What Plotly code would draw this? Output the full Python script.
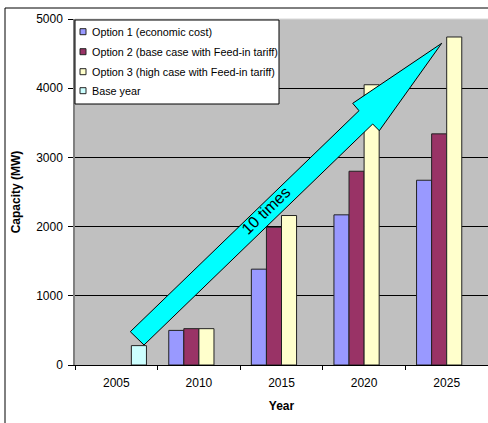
import plotly.graph_objects as go

years = ["2005", "2010", "2015", "2020", "2025"]
option1 = [None, 500, 1385, 2170, 2670]
option2 = [None, 525, 1990, 2800, 3340]
option3 = [None, 525, 2160, 4050, 4740]
base_year = [280, None, None, None, None]

series_names = [
    "Option 1 (economic cost)",
    "Option 2 (base case with Feed-in tariff)",
    "Option 3 (high case with Feed-in tariff)",
    "Base year",
]
series_values = [option1, option2, option3, base_year]
series_colors = ["#9999FF", "#993366", "#FFFFCC", "#CCFFFF"]

W, H = 488, 423
ML, MR, MT, MB = 75, 0, 19, 58
PW, PH = W - ML - MR, H - MT - MB
FONT = "Arial, Liberation Sans, sans-serif"


def px2paper(x, y):
    return (x - ML) / PW, (H - MB - y) / PH


fig = go.Figure()
for name, vals, col in zip(series_names, series_values, series_colors):
    fig.add_trace(go.Bar(
        x=years, y=vals, name=name,
        marker=dict(color=col, line=dict(color="#222222", width=1)),
        showlegend=False,
    ))

shapes = []
annotations = []

# outer chart frame (top and left edges visible)
fx0, fy0 = px2paper(5, 8)
fx1, fy1 = px2paper(W + 5, H + 5)
shapes.append(dict(type="line", xref="paper", yref="paper", x0=fx0, y0=fy0, x1=fx1, y1=fy0,
                   line=dict(color="black", width=1)))
shapes.append(dict(type="line", xref="paper", yref="paper", x0=fx0, y0=fy0, x1=fx0, y1=fy1,
                   line=dict(color="black", width=1)))
# light top edge of plot area
shapes.append(dict(type="line", xref="paper", yref="paper", x0=0, y0=1, x1=1, y1=1,
                   line=dict(color="#D8D8D8", width=1)))

# arrow (pixel geometry converted to paper)
arrow_px = [(130.3, 331.7), (359.0, 110.7), (352.7, 103.3), (441.7, 43.3),
            (379.3, 130.7), (372.7, 124.0), (144.0, 345.0)]
pts = [px2paper(x, y) for x, y in arrow_px]
path = "M " + " L ".join(f"{x:.5f},{y:.5f}" for x, y in pts) + " Z"
shapes.append(dict(type="path", xref="paper", yref="paper", path=path,
                   fillcolor="#00FFFF", line=dict(color="black", width=1), layer="above"))
tx, ty = px2paper(266, 211)
annotations.append(dict(xref="paper", yref="paper", x=tx, y=ty, text="10 times",
                        showarrow=False, textangle=-44,
                        font=dict(family=FONT, size=16, color="black")))

# legend box
lx0, ly0 = px2paper(75, 20)
lx1, ly1 = px2paper(279, 104)
shapes.append(dict(type="rect", xref="paper", yref="paper", x0=lx0, y0=ly0, x1=lx1, y1=ly1,
                   fillcolor="white", line=dict(color="black", width=1), layer="above"))
item_y = [31.7, 51.7, 71.7, 90.7]
for name, col, yy in zip(series_names, series_colors, item_y):
    sx0, sy0 = px2paper(80, yy - 3)
    sx1, sy1 = px2paper(86, yy + 3)
    shapes.append(dict(type="rect", xref="paper", yref="paper", x0=sx0, y0=sy0, x1=sx1, y1=sy1,
                       fillcolor=col, line=dict(color="#222222", width=1), layer="above"))
    ax, ay = px2paper(90, yy)
    annotations.append(dict(xref="paper", yref="paper", x=ax, y=ay, text=name,
                            showarrow=False, xanchor="left", yanchor="middle",
                            font=dict(family=FONT, size=10.8, color="black")))

fig.update_layout(
    width=W, height=H,
    margin=dict(l=ML, r=MR, t=MT, b=MB, pad=0),
    paper_bgcolor="white",
    plot_bgcolor="#C0C0C0",
    barmode="group",
    bargap=0.27,
    bargroupgap=0,
    font=dict(family=FONT, size=12, color="black"),
    shapes=shapes,
    annotations=annotations,
    xaxis=dict(
        type="category",
        showline=True, linecolor="black", linewidth=1,
        ticks="outside", tickson="boundaries", ticklen=4, tickcolor="black",
        ticklabelstandoff=7,
        tickfont=dict(family=FONT, size=12),
        title=dict(text="<b>Year</b>", font=dict(family=FONT, size=12), standoff=12),
    ),
    yaxis=dict(
        range=[0, 5000], dtick=1000,
        showline=True, linecolor="#808080", linewidth=1.5,
        showgrid=True, gridcolor="black", gridwidth=1,
        zeroline=False,
        ticks="outside", ticklen=5, tickcolor="black",
        ticklabelstandoff=3,
        tickfont=dict(family=FONT, size=12),
        title=dict(text="<b>Capacity (MW)</b>", font=dict(family=FONT, size=12), standoff=13),
    ),
)

fig.write_html("out.html")
